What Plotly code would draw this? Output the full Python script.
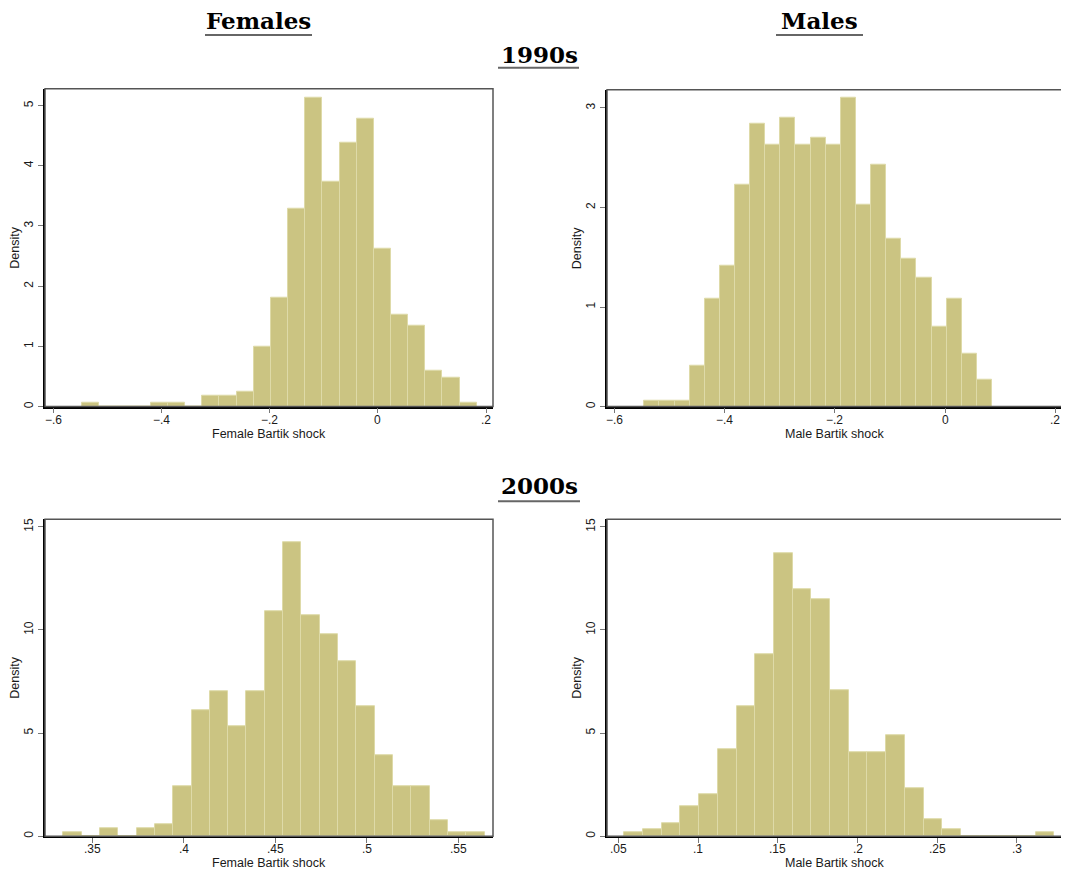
import plotly.graph_objects as go

# ---------------- data (histogram densities, 23 bins each) ----------------
f90_start, f90_width = -0.5464, 0.0317
f90_density = [0.066, 0, 0, 0, 0.066, 0.066, 0, 0.18, 0.18, 0.24, 0.99, 1.81, 3.28,
               5.13, 3.74, 4.39, 4.78, 2.63, 1.52, 1.35, 0.59, 0.475, 0.066]

m90_start, m90_width = -0.5456, 0.02743
m90_density = [0.063, 0.063, 0.063, 0.41, 1.08, 1.42, 2.23, 2.84, 2.63, 2.90, 2.63, 2.70,
               2.63, 3.10, 2.03, 2.43, 1.69, 1.49, 1.29, 0.805, 1.08, 0.535, 0.267]

f00_start, f00_width = 0.3342, 0.0100
f00_density = [0.18, 0, 0.37, 0, 0.37, 0.56, 2.40, 6.13, 7.05, 5.35, 7.05, 10.92, 14.26,
               10.73, 9.81, 8.50, 6.31, 3.90, 2.40, 2.40, 0.76, 0.18, 0.18]

m00_start, m00_width = 0.05356, 0.01174
m00_density = [0.18, 0.32, 0.65, 1.44, 2.05, 4.23, 6.31, 8.82, 13.71, 11.97, 11.48, 7.10,
               4.08, 4.08, 4.87, 2.34, 0.81, 0.32, 0, 0, 0, 0, 0.18]

x90_ticks = [-0.6, -0.4, -0.2, 0, 0.2]
x90_labels = ["\u2212.6", "\u2212.4", "\u2212.2", "0", ".2"]
xf00_ticks = [0.35, 0.4, 0.45, 0.5, 0.55]
xf00_labels = [".35", ".4", ".45", ".5", ".55"]
xm00_ticks = [0.05, 0.1, 0.15, 0.2, 0.25, 0.3]
xm00_labels = [".05", ".1", ".15", ".2", ".25", ".3"]
yf90_ticks = [0, 1, 2, 3, 4, 5]
ym90_ticks = [0, 1, 2, 3]
y00_ticks = [0, 5, 10, 15]

col_titles = ["Females", "Males"]
row_titles = ["1990s", "2000s"]
x_titles = ["Female Bartik shock", "Male Bartik shock"]

OFF = 8                      # page body margin in the browser
W, H = 1069 - OFF, 877 - OFF
FILL = "#CBC482"
EDGE = "#DEDAA8"
TICKFONT = dict(family="Liberation Sans, Arial, sans-serif", size=12, color="#1a1a1a")
LABFONT = dict(family="Liberation Sans, Arial, sans-serif", size=12.5, color="#1a1a1a")


def px_x(v):
    return (v - OFF) / W


def px_y(v):
    return 1 - (v - OFF) / H


panels = [
    dict(start=f90_start, width=f90_width, dens=f90_density, xr=[-0.6154, 0.2129], yr=[0, 5.28],
         xt=x90_ticks, xl=x90_labels, yt=yf90_ticks, px=(45, 493), py=(88, 407), xtitle=x_titles[0]),
    dict(start=m90_start, width=m90_width, dens=m90_density, xr=[-0.6132, 0.2122], yr=[0, 3.183],
         xt=x90_ticks, xl=x90_labels, yt=ym90_ticks, px=(607, 1062), py=(89, 407), xtitle=x_titles[1]),
    dict(start=f00_start, width=f00_width, dens=f00_density, xr=[0.3242, 0.5688], yr=[0, 15.37],
         xt=xf00_ticks, xl=xf00_labels, yt=y00_ticks, px=(45, 493), py=(520, 838), xtitle=x_titles[0]),
    dict(start=m00_start, width=m00_width, dens=m00_density, xr=[0.0427, 0.3283], yr=[0, 15.37],
         xt=xm00_ticks, xl=xm00_labels, yt=y00_ticks, px=(607, 1062), py=(520, 838), xtitle=x_titles[1]),
]

fig = go.Figure()
annotations = []
shapes = []
for i, p in enumerate(panels):
    n = "" if i == 0 else str(i + 1)
    xa, ya = "x" + n, "y" + n
    centers = [p["start"] + p["width"] * (k + 0.5) for k in range(len(p["dens"]))]
    fig.add_trace(go.Bar(x=centers, y=p["dens"], width=p["width"], xaxis=xa, yaxis=ya,
                         marker=dict(color=FILL, line=dict(color=EDGE, width=1)),
                         showlegend=False, hoverinfo="x+y"))
    xd = [px_x(p["px"][0]), px_x(p["px"][1])]
    yd = [px_y(p["py"][1]), px_y(p["py"][0])]
    axis_common = dict(showgrid=False, zeroline=False, ticks="outside", ticklen=5,
                       tickcolor="#777777", tickwidth=1, showline=True, linecolor="black",
                       linewidth=1.5, tickfont=TICKFONT, mirror=False, fixedrange=True)
    fig.update_layout(**{
        "xaxis" + n: dict(domain=xd, range=p["xr"], tickvals=p["xt"], showticklabels=False,
                          anchor=ya, **axis_common),
        "yaxis" + n: dict(domain=yd, range=p["yr"], tickvals=p["yt"],
                          ticktext=[str(v) for v in p["yt"]], tickangle=-90,
                          anchor=xa, **axis_common),
    })
    # x tick labels
    for tv, tl in zip(p["xt"], p["xl"]):
        annotations.append(dict(text=tl, xref=xa, yref="paper", x=tv, y=px_y(p["py"][1] + 13),
                                showarrow=False, font=TICKFONT, xanchor="center",
                                yanchor="middle"))
    # plot-region frame (top / right in grey)
    shapes.append(dict(type="rect", xref=xa + " domain", yref=ya + " domain",
                       x0=0, x1=1, y0=0, y1=1, line=dict(color="#555555", width=1.5),
                       fillcolor="rgba(0,0,0,0)", layer="above"))
    # axis titles
    annotations.append(dict(text=p["xtitle"], xref="paper", yref="paper",
                            x=(xd[0] + xd[1]) / 2, y=px_y(p["py"][1] + 27),
                            showarrow=False, font=LABFONT, xanchor="center", yanchor="middle"))
    annotations.append(dict(text="Density", xref="paper", yref="paper",
                            x=px_x(p["px"][0] - 30), y=(yd[0] + yd[1]) / 2, textangle=-90,
                            showarrow=False, font=LABFONT, xanchor="center", yanchor="middle"))

TITLEFONT = dict(family="DejaVu Serif, serif", size=23, color="black")
titles = [(col_titles[0], 258.5, 19, 205, 312, 34),
          (col_titles[1], 819.5, 19, 776, 863, 34),
          (row_titles[0], 539, 53, 498, 579, 67),
          (row_titles[1], 539, 486, 498, 580, 502)]
for txt, cx, cy, ux0, ux1, uy in titles:
    annotations.append(dict(text="<b>" + txt + "</b>", xref="paper", yref="paper",
                            x=px_x(cx), y=px_y(cy), showarrow=False, font=TITLEFONT,
                            xanchor="center", yanchor="middle", height=22, borderpad=0))
    shapes.append(dict(type="line", xref="paper", yref="paper", x0=px_x(ux0), x1=px_x(ux1),
                       y0=px_y(uy), y1=px_y(uy), line=dict(color="#666666", width=2)))

fig.update_layout(width=W, height=H, margin=dict(l=0, r=0, t=0, b=0),
                  paper_bgcolor="white", plot_bgcolor="white", bargap=0,
                  annotations=annotations, shapes=shapes)

fig.write_html("out.html")
